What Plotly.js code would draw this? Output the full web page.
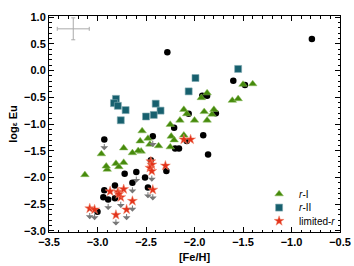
<!DOCTYPE html>
<html><head><meta charset="utf-8">
<script src="https://cdn.plot.ly/plotly-3.0.1.min.js"></script>
<style>html,body{margin:0;padding:0;background:#fff}</style>
</head><body><div id="chart" style="width:354px;height:266px"></div>
<script>
// r-I stars (green triangles)
const rIFe = [-1.50,-1.40,-1.61,-1.55,-1.87,-1.93,-2.11,-2.08,-1.90,-1.80,-1.82,-2.15,-2.00,-1.87,-2.25,-2.54,-2.24,-2.11,-2.21,-2.48,-2.56,-2.46,-2.37,-2.25,-2.55,-2.58,-2.64,-2.73,-2.96,-2.81,-2.78,-2.73,-2.90,-2.91,-3.13];
const rIEu = [-0.26,-0.25,-0.56,-0.53,-0.42,-0.51,-0.73,-0.81,-0.77,-0.73,-0.82,-0.93,-0.93,-0.93,-1.01,-1.13,-1.23,-1.21,-1.30,-1.27,-1.32,-1.38,-1.41,-1.43,-1.51,-1.50,-1.54,-1.45,-1.56,-1.74,-1.80,-1.72,-1.85,-1.79,-1.95];
// r-II stars (teal squares)
const rIIFe = [-2.81,-2.83,-2.79,-2.71,-2.76,-2.40,-2.35,-2.42,-2.50,-2.06,-1.99,-1.55];
const rIIEu = [-0.53,-0.61,-0.66,-0.74,-0.93,-0.62,-0.75,-0.83,-0.86,-0.39,-0.14,0.03];
// limited-r stars (red stars); limit flag 1 = upper limit
const limFe = [-3.08,-3.03,-2.87,-2.79,-2.73,-2.76,-2.81,-2.70,-2.64,-2.43,-2.45,-2.44,-2.46,-2.44,-2.30,-2.11,-2.04,-2.78];
const limEu = [-2.58,-2.60,-2.26,-2.27,-2.22,-2.37,-2.70,-2.60,-2.44,-2.23,-1.70,-1.76,-1.82,-1.88,-1.78,-1.29,-1.29,-2.31];
const limUL = [1,1,0,0,0,1,1,1,1,1,0,0,0,1,0,0,0,0];
// other stars (black circles)
const othFe = [-2.28,-0.79,-1.60,-1.48,-1.92,-1.87,-2.06,-1.78,-2.21,-2.93,-2.43,-2.20,-2.16,-1.91,-1.86,-2.08,-2.45,-2.72,-2.60,-2.51,-2.29,-2.82,-2.64,-2.48,-2.93,-2.94,-2.89,-2.82,-3.00];
const othEu = [0.34,0.59,-0.19,-0.27,-0.47,-0.47,-0.81,-0.80,-1.07,-1.29,-1.23,-1.46,-1.46,-1.21,-1.57,-1.32,-1.68,-1.93,-1.90,-2.00,-1.88,-2.15,-2.10,-2.19,-2.24,-2.37,-2.41,-2.39,-2.64];
const othUL = [0,0,0,0,0,0,0,0,0,1,1,0,0,0,0,0,0,0,1,0,0,0,1,1,0,0,1,0,0];
// typical uncertainty cross
const errFe = [-3.25], errEu = [0.78], errXs = [0.165], errYs = [0.205];
const arrowLen = 0.2;

const traces = [
  {x: errFe, y: errEu, type:'scatter', mode:'markers', showlegend:false, hoverinfo:'skip',
   marker:{size:1, color:'rgba(0,0,0,0)'},
   error_x:{type:'data', array:errXs, visible:true, color:'#aaaaaa', thickness:1, width:2},
   error_y:{type:'data', array:errYs, visible:true, color:'#aaaaaa', thickness:1, width:2}},
  {x: othFe, y: othEu, type:'scatter', mode:'markers', showlegend:false, name:'other',
   marker:{symbol:'circle', size:6.5, color:'#000000'}},
  {x: rIIFe, y: rIIEu, type:'scatter', mode:'markers', name:'<i>r</i>-II', legend:'legend2',
   marker:{symbol:'square', size:7, color:'#17606e', line:{color:'#7fa9b0', width:0.6}}},
  {x: rIFe, y: rIEu, type:'scatter', mode:'markers', name:'<i>r</i>-I', legend:'legend',
   marker:{symbol:'triangle-up', size:7.5, color:'#468a0c', line:{color:'#8fbf60', width:0.5}}},
  {x: limFe, y: limEu, type:'scatter', mode:'markers', name:'limited-<i>r</i>', legend:'legend3',
   marker:{symbol:'star', size:7.5, color:'#e3321a', line:{color:'#f08a70', width:0.5}}}
];

const ann = [];
function addArrows(xs, ys, fl){
  for (let i=0;i<xs.length;i++){
    if (!fl[i]) continue;
    ann.push({x: xs[i], y: ys[i]-arrowLen, ax: xs[i], ay: ys[i], xref:'x', yref:'y', axref:'x', ayref:'y',
      showarrow:true, arrowhead:1, arrowsize:1.3, arrowwidth:1, arrowcolor:'#777777', startstandoff:3, text:''});
  }
}
addArrows(othFe, othEu, othUL);
addArrows(limFe, limEu, limUL);

const legFont = {family:'Liberation Sans, Arial, sans-serif', size:10, color:'#000'};
function leg(y){
  return {x:0.722, y:y, xanchor:'left', yanchor:'middle', bgcolor:'rgba(0,0,0,0)', borderwidth:0,
    font:legFont, itemsizing:'trace', tracegroupgap:0};
}
const tickFont = {family:'Liberation Sans, Arial, sans-serif', size:11, color:'#000', weight:'bold'};
const layout = {
  width:354, height:266,
  margin:{l:49, r:14, t:16, b:34},
  paper_bgcolor:'#fff', plot_bgcolor:'#fff',
  showlegend:true,
  legend:leg(0.176), legend2:leg(0.113), legend3:leg(0.051),
  xaxis:{range:[-3.5,-0.5], dtick:0.5, tick0:-3.5, tickformat:'.1f', showgrid:false, zeroline:false,
    showline:true, linecolor:'#000', linewidth:1, mirror:'ticks', ticks:'inside', ticklen:5, tickcolor:'#000',
    minor:{dtick:0.1, ticks:'inside', ticklen:2.5, tickcolor:'#000', showgrid:false},
    tickfont:tickFont,
    title:{text:'[Fe/H]', font:{family:'Liberation Sans, Arial, sans-serif', size:11, weight:'bold', color:'#000'}, standoff:6}},
  yaxis:{range:[-3.02,1.02], dtick:0.5, tick0:-3, tickformat:'.1f', showgrid:false, zeroline:false,
    showline:true, linecolor:'#000', linewidth:1, mirror:'ticks', ticks:'inside', ticklen:5, tickcolor:'#000',
    minor:{dtick:0.1, ticks:'inside', ticklen:2.5, tickcolor:'#000', showgrid:false},
    tickfont:tickFont,
    title:{text:'log<span style="font-size:8px">ε</span> Eu', font:{family:'Liberation Sans, Arial, sans-serif', size:11, weight:'bold', color:'#000'}, standoff:4}},
  annotations: ann
};
Plotly.newPlot('chart', traces, layout, {staticPlot:true, displayModeBar:false});
</script></body></html>
